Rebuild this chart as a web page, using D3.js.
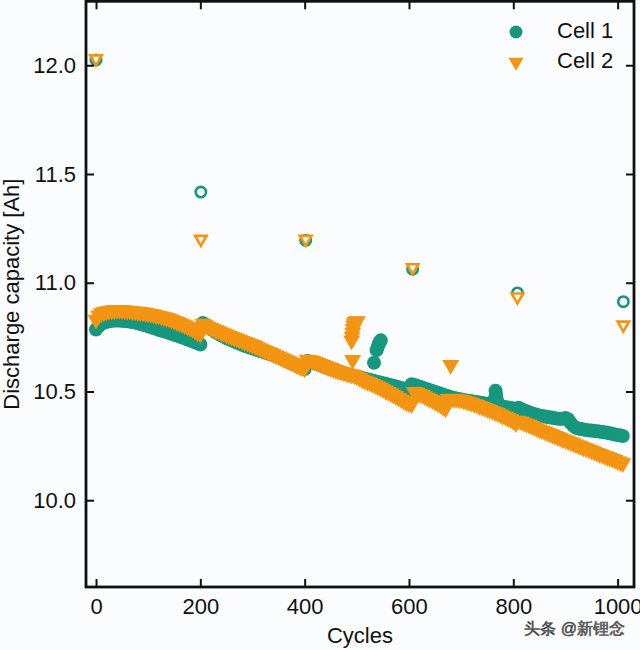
<!DOCTYPE html>
<html><head><meta charset="utf-8">
<script src="https://cdn.jsdelivr.net/npm/d3@7"></script>
<style>
html,body{margin:0;padding:0;background:#fbfcfe;}
svg{display:block;}
text{font-family:"Liberation Sans",Arial,sans-serif;fill:#111;}
</style></head>
<body><svg id="c" width="640" height="650"></svg>
<script>
// ---- data ----
const cycles = d3.range(0, 1015, 5);
const cell1 = [
10.785,10.800,10.810,10.816,10.820,10.823,10.825,10.826,10.826,10.826,
10.825,10.824,10.823,10.821,10.819,10.817,10.814,10.811,10.807,10.804,
10.800,10.796,10.792,10.788,10.784,10.780,10.777,10.773,10.769,10.765,
10.761,10.757,10.753,10.749,10.745,10.740,10.735,10.731,10.726,10.721,
10.716,10.815,10.806,10.797,10.788,10.780,10.772,10.765,10.758,10.752,
10.746,10.740,10.735,10.730,10.725,10.720,10.715,10.710,10.706,10.702,
10.698,10.694,10.690,10.686,10.682,10.678,10.675,10.671,10.667,10.662,
10.657,10.652,10.647,10.641,10.636,10.630,10.625,10.619,10.614,10.608,
10.603,10.640,10.638,10.634,10.630,10.626,10.621,10.617,10.612,10.608,
10.604,10.600,10.596,10.592,10.588,10.584,10.580,10.577,10.574,10.571,
10.568,10.565,10.562,10.559,10.556,10.553,10.550,10.547,10.544,10.541,
10.538,10.535,10.532,10.529,10.526,10.523,10.519,10.516,10.513,10.510,
10.507,10.533,10.530,10.526,10.522,10.518,10.514,10.510,10.506,10.502,
10.498,10.494,10.490,10.486,10.482,10.478,10.474,10.471,10.468,10.465,
10.463,10.461,10.459,10.457,10.455,10.453,10.451,10.449,10.447,10.445,
10.443,10.441,10.439,10.470,10.445,10.435,10.430,10.428,10.426,10.424,
10.422,10.420,10.425,10.420,10.414,10.409,10.404,10.400,10.396,10.392,
10.389,10.387,10.385,10.383,10.381,10.379,10.377,10.375,10.374,10.375,
10.378,10.372,10.355,10.342,10.333,10.330,10.327,10.325,10.323,10.321,
10.320,10.318,10.317,10.316,10.314,10.312,10.310,10.308,10.305,10.302,
10.300,10.298,10.295];
const cell2 = [
10.830,10.850,10.860,10.865,10.868,10.871,10.873,10.874,10.875,10.875,
10.874,10.873,10.872,10.871,10.869,10.868,10.866,10.865,10.863,10.861,
10.859,10.857,10.854,10.851,10.848,10.845,10.842,10.838,10.835,10.830,
10.825,10.820,10.815,10.810,10.805,10.799,10.793,10.787,10.779,10.771,
10.765,10.812,10.805,10.798,10.792,10.787,10.782,10.777,10.772,10.767,
10.762,10.757,10.752,10.747,10.743,10.738,10.733,10.728,10.724,10.719,
10.714,10.709,10.703,10.698,10.692,10.687,10.682,10.677,10.672,10.666,
10.661,10.655,10.650,10.644,10.639,10.633,10.628,10.622,10.616,10.610,
10.606,10.646,10.644,10.640,10.636,10.631,10.627,10.622,10.617,10.612,
10.608,10.603,10.598,10.595,10.591,10.588,10.584,10.581,10.578,10.574,
10.569,10.562,10.555,10.550,10.545,10.540,10.535,10.529,10.523,10.517,
10.511,10.504,10.498,10.492,10.485,10.478,10.471,10.464,10.457,10.450,
10.446,10.442,10.498,10.494,10.489,10.484,10.478,10.472,10.466,10.460,
10.453,10.446,10.439,10.430,10.422,10.466,10.466,10.467,10.466,10.464,
10.462,10.459,10.455,10.451,10.447,10.443,10.439,10.434,10.429,10.425,
10.420,10.415,10.410,10.405,10.400,10.395,10.389,10.384,10.378,10.373,
10.364,10.354,10.366,10.362,10.357,10.352,10.347,10.342,10.336,10.331,
10.326,10.321,10.316,10.311,10.306,10.301,10.296,10.291,10.286,10.281,
10.276,10.271,10.267,10.262,10.257,10.252,10.247,10.242,10.238,10.233,
10.228,10.223,10.218,10.213,10.209,10.204,10.199,10.194,10.190,10.185,
10.180,10.175,10.170];
const cell1ExtraCycles = [533, 538, 540, 542, 544, 546, 766, 767, 768];
const cell1Extra = [10.632, 10.690, 10.705, 10.718, 10.728, 10.735, 10.503, 10.485, 10.465];
const cell2ExtraCycles = [490, 491, 492, 493, 494, 495, 497, 499, 501, 492, 680];
const cell2Extra = [10.735, 10.752, 10.770, 10.788, 10.803, 10.813, 10.820, 10.822, 10.823, 10.645, 10.622];
const checkCycles = [0, 201, 402, 607, 808, 1011];
const check1 = [12.024, 11.417, 11.195, 11.062, 10.953, 10.913];
const check2 = [12.030, 11.200, 11.200, 11.070, 10.935, 10.806];
const xTicks = [0, 200, 400, 600, 800, 1000];
const yTicks = [10.0, 10.5, 11.0, 11.5, 12.0];
const seriesNames = ["Cell 1", "Cell 2"];
const colors = ["#16977e", "#f39412"];

// ---- layout ----
const L = 86, R = 634, T = 1.3, B = 587;
const FS = 22;
const svg = d3.select("#c");
svg.append("rect").attr("width", 640).attr("height", 650).attr("fill", "#fbfcfe");
const x = d3.scaleLinear().domain([-19.2, 1031.4]).range([L, R]);
const y = d3.scaleLinear().domain([9.601, 12.294]).range([B, T]);

const circ = d3.symbol().type(d3.symbolCircle).size(Math.PI * 7 * 7);
const tri = d3.symbol().type(d3.symbolTriangle).size(Math.sqrt(3) / 4 * 17 * 17);
const circOpen = d3.symbol().type(d3.symbolCircle).size(Math.PI * 5.2 * 5.2);
const triOpen = d3.symbol().type(d3.symbolTriangle).size(Math.sqrt(3) / 4 * 11.5 * 11.5);

const plot = svg.append("g");
function drawMarks(cs, vs, gen, col, flip) {
  plot.append("g").selectAll("path").data(cs.map((c, i) => [c, vs[i]])).join("path")
    .attr("d", gen)
    .attr("transform", d => `translate(${x(d[0])},${y(d[1])})` + (flip ? " rotate(180)" : ""))
    .attr("fill", col);
}
drawMarks(cycles, cell1, circ, colors[0], false);
drawMarks(cell1ExtraCycles, cell1Extra, circ, colors[0], false);
drawMarks(cycles, cell2, tri, colors[1], true);
drawMarks(cell2ExtraCycles, cell2Extra, tri, colors[1], true);

plot.append("g").selectAll("path").data(checkCycles.map((c, i) => [c, check1[i]])).join("path")
  .attr("d", circOpen).attr("transform", d => `translate(${x(d[0])},${y(d[1])})`)
  .attr("fill", "#fbfcfe").attr("stroke", colors[0]).attr("stroke-width", 2.6);
plot.append("g").selectAll("path").data(checkCycles.map((c, i) => [c, check2[i]])).join("path")
  .attr("d", triOpen).attr("transform", d => `translate(${x(d[0])},${y(d[1])}) rotate(180)`)
  .attr("fill", "#fbfcfe").attr("stroke", colors[1]).attr("stroke-width", 2.6);

// ---- axes ----
function styleAxis(g) {
  g.select(".domain").remove();
  g.selectAll(".tick line").attr("stroke", "#111").attr("stroke-width", 2);
  g.selectAll(".tick text").attr("font-size", FS).attr("fill", "#111")
    .attr("font-family", '"Liberation Sans", Arial, sans-serif');
}
svg.append("g").attr("transform", `translate(0,${B})`)
  .call(d3.axisBottom(x).tickValues(xTicks).tickSize(-8).tickPadding(11).tickFormat(d3.format("d")))
  .call(styleAxis);
svg.append("g").attr("transform", `translate(0,${T})`)
  .call(d3.axisTop(x).tickValues(xTicks).tickSize(-8).tickFormat(""))
  .call(styleAxis);
svg.append("g").attr("transform", `translate(${L},0)`)
  .call(d3.axisLeft(y).tickValues(yTicks).tickSize(-8).tickPadding(10).tickFormat(d3.format(".1f")))
  .call(styleAxis);
svg.append("g").attr("transform", `translate(${R},0)`)
  .call(d3.axisRight(y).tickValues(yTicks).tickSize(-8).tickFormat(""))
  .call(styleAxis);

svg.append("rect").attr("x", L).attr("y", T).attr("width", R - L).attr("height", B - T)
  .attr("fill", "none").attr("stroke", "#111").attr("stroke-width", 2.8);

// ---- labels ----
svg.append("text").attr("x", (L + R) / 2).attr("y", 643).attr("text-anchor", "middle")
  .attr("font-size", FS).text("Cycles");
svg.append("text").attr("transform", `translate(19,${(T + B) / 2}) rotate(-90)`)
  .attr("text-anchor", "middle").attr("font-size", FS).text("Discharge capacity [Ah]");

// ---- legend ----
const leg = svg.append("g");
leg.append("path").attr("d", d3.symbol().type(d3.symbolCircle).size(Math.PI * 6.5 * 6.5))
  .attr("transform", "translate(516,32)").attr("fill", colors[0]);
leg.append("path").attr("d", d3.symbol().type(d3.symbolTriangle).size(Math.sqrt(3) / 4 * 15 * 15))
  .attr("transform", "translate(516,62) rotate(180)").attr("fill", colors[1]);
leg.append("text").attr("x", 557).attr("y", 38).attr("font-size", FS).text(seriesNames[0]);
leg.append("text").attr("x", 557).attr("y", 68).attr("font-size", FS).text(seriesNames[1]);

// ---- watermark ----
svg.append("text").attr("x", 625).attr("y", 634).attr("text-anchor", "end")
  .attr("font-size", 16).attr("font-family", '"Noto Sans CJK SC", sans-serif')
  .attr("fill", "#ffffff").attr("stroke", "#6a6a6a").attr("stroke-width", 0.6)
  .text("头条 @新锂念");
</script></body></html>
